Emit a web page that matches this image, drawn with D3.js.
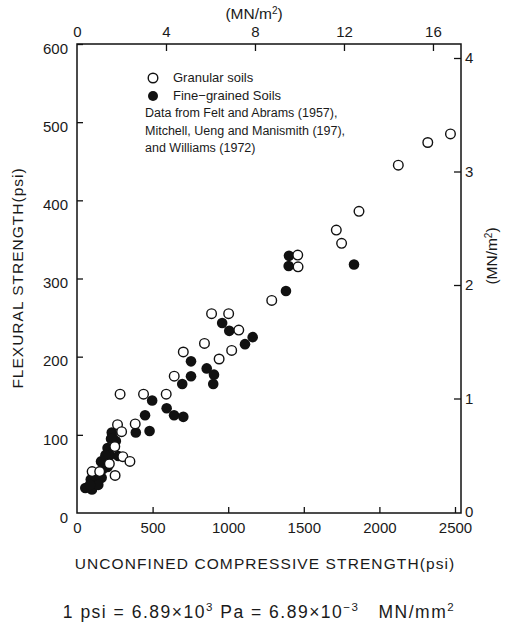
<!DOCTYPE html>
<html>
<head>
<meta charset="utf-8">
<script src="https://cdn.jsdelivr.net/npm/d3@7"></script>
<style>
  body { margin: 0; background: #fff; }
  svg text { font-family: "Liberation Sans", Arial, sans-serif; fill: #1a1a1a; }
  .tick line { stroke: #111; stroke-width: 1.3; }
  .tick text { font-size: 15px; }
</style>
</head>
<body>
<div class="chart"></div>
<script>
//data (psi)
var granularX = [2470, 2320, 2125, 1865, 1715, 1750, 1460, 1462, 1288, 890, 1003, 1070, 843, 1023, 940, 703, 643, 285, 440, 590, 385, 268, 295, 250, 303, 350, 214, 252, 100, 150];
var granularY = [485, 474, 445, 386, 362, 345, 330, 315, 272, 255, 255, 234, 217, 208, 197, 206, 175, 152, 152, 152, 114, 113, 104, 85, 72, 66, 63, 48, 53, 53];

var fineX = [1832, 1402, 1400, 1382, 960, 1007, 1162, 1111, 858, 906, 901, 754, 754, 696, 497, 593, 642, 703, 450, 480, 389, 230, 257, 202, 218, 273, 159, 202, 170, 91, 126, 163, 55, 99, 141, 86, 238, 188, 128, 225];
var fineY = [318, 329, 316, 284, 243, 233, 225, 216, 185, 177, 165, 194, 175, 165, 144, 134, 125, 123, 125, 105, 103, 103, 92, 83, 74, 73, 66, 59, 56, 43, 41, 45, 32, 30, 36, 36, 96, 74, 50, 95];

//tick values
var psiTicksX = [0, 500, 1000, 1500, 2000, 2500];
var psiTicksY = [0, 100, 200, 300, 400, 500, 600];
var mnTicksTop = [0, 4, 8, 12, 16];
var mnTicksRight = [0, 1, 2, 3, 4];

var width = 507,
    height = 632,
    frameLeft = 77,
    frameRight = 461,
    frameTop = 44,
    frameBottom = 513;

var svg = d3.select(".chart").append("svg")
            .attr("width", width)
            .attr("height", height);

//scales
var xScale = d3.scaleLinear().domain([0, 2500]).range([frameLeft, 455]);
var yScale = d3.scaleLinear().domain([0, 600]).range([frameBottom, frameTop]);
var topScale = d3.scaleLinear().domain([0, 17.26]).range([frameLeft, frameRight]);
var rightScale = d3.scaleLinear().domain([0, 4]).range([512, 58]);

//frame
svg.append("rect")
   .attr("x", frameLeft)
   .attr("y", frameTop)
   .attr("width", frameRight - frameLeft)
   .attr("height", frameBottom - frameTop)
   .style("fill", "none")
   .style("stroke", "#111")
   .style("stroke-width", 1.5);

//axes, ticks pointing inward
var xAxis = d3.axisBottom(xScale).tickValues(psiTicksX).tickSize(-6).tickPadding(9).tickFormat(d3.format("d"));
svg.append("g").attr("transform", "translate(0," + frameBottom + ")").call(xAxis);

var yAxis = d3.axisLeft(yScale).tickValues(psiTicksY).tickSize(-6).tickPadding(9);
svg.append("g").attr("transform", "translate(" + frameLeft + ",0)").call(yAxis)
   .selectAll("text").attr("dy", "0.62em");

var topAxis = d3.axisTop(topScale).tickValues(mnTicksTop).tickSize(-7).tickPadding(7);
svg.append("g").attr("transform", "translate(0," + frameTop + ")").call(topAxis);

var rightAxis = d3.axisRight(rightScale).tickValues(mnTicksRight).tickSize(-7).tickPadding(4).tickFormat(d3.format("d"));
svg.append("g").attr("transform", "translate(" + frameRight + ",0)").call(rightAxis);

svg.selectAll(".domain").remove();
//no tick marks at the corners
svg.selectAll(".tick").filter(function(d) { return d === 0; }).select("line").remove();

//points
svg.append("g").selectAll("circle")
   .data(fineX)
   .enter()
   .append("circle")
   .attr("cx", function(d) { return xScale(d); })
   .attr("cy", function(d, i) { return yScale(fineY[i]); })
   .attr("r", 5.3)
   .style("fill", "#111");

svg.append("g").selectAll("circle")
   .data(granularX)
   .enter()
   .append("circle")
   .attr("cx", function(d) { return xScale(d); })
   .attr("cy", function(d, i) { return yScale(granularY[i]); })
   .attr("r", 4.8)
   .style("fill", "#fff")
   .style("stroke", "#111")
   .style("stroke-width", 1.4);

//legend
svg.append("circle").attr("cx", 153).attr("cy", 78).attr("r", 4.8)
   .style("fill", "#fff").style("stroke", "#111").style("stroke-width", 1.4);
svg.append("circle").attr("cx", 153).attr("cy", 96).attr("r", 5)
   .style("fill", "#111");
svg.append("text").attr("x", 173).attr("y", 82).style("font-size", "13px").text("Granular soils");
svg.append("text").attr("x", 173).attr("y", 100).style("font-size", "13px").text("Fine\u2212grained Soils");

var notes = ["Data from Felt and Abrams (1957),",
             "Mitchell, Ueng and Manismith (197),",
             "and Williams (1972)"];
svg.append("g").selectAll("text")
   .data(notes)
   .enter()
   .append("text")
   .attr("x", 145)
   .attr("y", function(d, i) { return 117 + i * 17.5; })
   .style("font-size", "12.5px")
   .text(function(d) { return d; });

//axis titles
var topTitle = svg.append("text").attr("x", 254).attr("y", 19)
   .attr("text-anchor", "middle").style("font-size", "15.5px");
topTitle.append("tspan").text("(MN/m");
topTitle.append("tspan").attr("dy", -5).style("font-size", "10px").text("2");
topTitle.append("tspan").attr("dy", 5).text(")");

svg.append("text")
   .attr("transform", "translate(23,278) rotate(-90)")
   .attr("text-anchor", "middle")
   .style("font-size", "15.5px")
   .style("letter-spacing", "1px")
   .text("FLEXURAL STRENGTH(psi)");

var rightTitle = svg.append("text")
   .attr("transform", "translate(497,256) rotate(-90)")
   .attr("text-anchor", "middle")
   .style("font-size", "15.5px");
rightTitle.append("tspan").text("(MN/m");
rightTitle.append("tspan").attr("dy", -5).style("font-size", "10px").text("2");
rightTitle.append("tspan").attr("dy", 5).text(")");

svg.append("text")
   .attr("x", 265)
   .attr("y", 569)
   .attr("text-anchor", "middle")
   .style("font-size", "15.5px")
   .style("letter-spacing", "1.1px")
   .text("UNCONFINED COMPRESSIVE STRENGTH(psi)");

//footer
var footer = svg.append("text").attr("x", 259).attr("y", 618)
   .attr("text-anchor", "middle").style("font-size", "17.5px")
   .style("letter-spacing", "1.5px");
footer.append("tspan").text("1 psi = 6.89\u00d710");
footer.append("tspan").attr("dy", -7).style("font-size", "11.5px").text("3");
footer.append("tspan").attr("dy", 7).text(" Pa = 6.89\u00d710");
footer.append("tspan").attr("dy", -7).style("font-size", "11.5px").text("\u22123");
footer.append("tspan").attr("dy", 7).text("\u00a0\u00a0 MN/mm");
footer.append("tspan").attr("dy", -7).style("font-size", "11.5px").text("2");
</script>
</body>
</html>
